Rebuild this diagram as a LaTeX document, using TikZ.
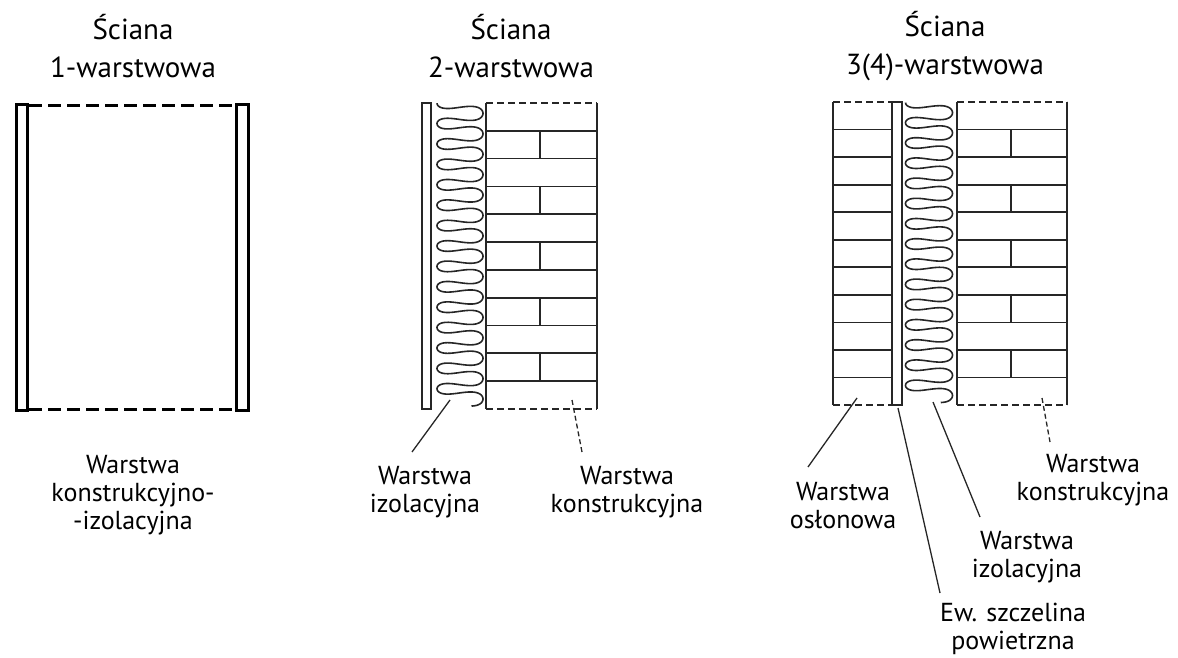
\documentclass[tikz,border=0pt]{standalone}
\usepackage{fontspec}
\setmainfont{PT Sans}

\tikzset{
  wall/.style={line width=1.8pt, black!85},
  board/.style={line width=3pt},
  gapline/.style={line width=3pt, dash pattern=on 13pt off 6pt},
  openedge/.style={line width=1.8pt, black!85, dash pattern=on 7pt off 4pt},
  wool/.style={line width=1.6pt, black!85, line join=round},
  leader/.style={line width=1.3pt, black!85},
  leaderdash/.style={leader, dash pattern=on 5pt off 3pt},
  title/.style={align=center, font=\fontsize{29}{38}\selectfont},
  lbl/.style={align=center, font=\fontsize{26}{28}\selectfont},
}

% soft insulation: centre x, half width, start y, pitch
\newcommand\woolfill[4]{%
  \draw[wool] plot[domain=180:5460, samples=900, smooth]
    ({#1+#2*cos(\x)}, {#3+#4*(\x/360)+1*sin(\x)+3.2*sin(2*\x)});}

% brick courses: left x, right x, top y, course height
\newcommand\courses[4]{%
  \foreach \k in {1,...,10}
    \draw[wall] (#1,{#3+\k*#4}) -- (#2,{#3+\k*#4});}

% head joints: x, top y, course height
\newcommand\headjoints[3]{%
  \foreach \k in {1,3,...,9}
    \draw[wall] (#1,{#2+\k*#3}) -- (#1,{#2+(\k+1)*#3});}

\begin{document}
\begin{tikzpicture}[x=1pt, y=-1pt]
\useasboundingbox (0,0) rectangle (1178,658);

% titles
\node[title] (t1) at (133,46) {Ściana\\1-warstwowa};
\node[title] (t2) at (511,46) {Ściana\\2-warstwowa};
\node[title] (t3) at (945,46) {Ściana\\3(4)-warstwowa};

% single layer wall
\draw[board] (16.5,105) rectangle (27.5,410.5);
\draw[board] (236.5,105) rectangle (248.5,410.5);
\draw[gapline] (29,106) -- (235,106);
\draw[gapline] (29,409.5) -- (235,409.5);
\node[lbl] (l1) at (133,495.5) {Warstwa\\konstrukcyjno-\\-izolacyjna};

% two layer wall
\draw[wall] (422,103) rectangle (431,409);
\woolfill{460}{23}{93}{20.4}
\draw[wall] (486,103) -- (486,409) (597,103) -- (597,409);
\draw[openedge] (486,103) -- (597,103) (486,409) -- (597,409);
\courses{486}{597}{103}{27.8}
\headjoints{540}{103}{27.8}

\coordinate (w2i) at (450,400);
\coordinate (w2iend) at (412,452);
\coordinate (w2k) at (572,400);
\coordinate (w2kend) at (582,452);
\draw[leader] (w2i) -- (w2iend);
\draw[leaderdash] (w2k) -- (w2kend);
\node[lbl] (l2i) at (425,492) {Warstwa\\izolacyjna};
\node[lbl] (l2k) at (627,492) {Warstwa\\konstrukcyjna};

% three layer wall
\draw[wall] (833,102) -- (833,405) (892,102) -- (892,405);
\draw[openedge] (833,102) -- (892,102) (833,405) -- (892,405);
\courses{833}{892}{102}{27.55}
\draw[wall] (892,102) rectangle (902,405);
\woolfill{929}{23.5}{92.5}{20.2}
\draw[wall] (957,102) -- (957,405) (1067,102) -- (1067,405);
\draw[openedge] (957,102) -- (1067,102) (957,405) -- (1067,405);
\courses{957}{1067}{102}{27.55}
\headjoints{1011}{102}{27.55}

\coordinate (w3o) at (857,398);
\coordinate (w3oend) at (808,467);
\coordinate (w3g) at (898,408);
\coordinate (w3gend) at (940,593);
\coordinate (w3i) at (933,402);
\coordinate (w3iend) at (980,517);
\coordinate (w3k) at (1042,398);
\coordinate (w3kend) at (1050,442);
\draw[leader] (w3o) -- (w3oend);
\draw[leader] (w3g) -- (w3gend);
\draw[leader] (w3i) -- (w3iend);
\draw[leaderdash] (w3k) -- (w3kend);
\node[lbl] (l3o) at (843,506) {Warstwa\\osłonowa};
\node[lbl] (l3i) at (1027,557) {Warstwa\\izolacyjna};
\node[lbl] (l3g) at (1013,629) {Ew. szczelina\\powietrzna};
\node[lbl] (l3k) at (1093,480) {Warstwa\\konstrukcyjna};
\end{tikzpicture}
\end{document}
